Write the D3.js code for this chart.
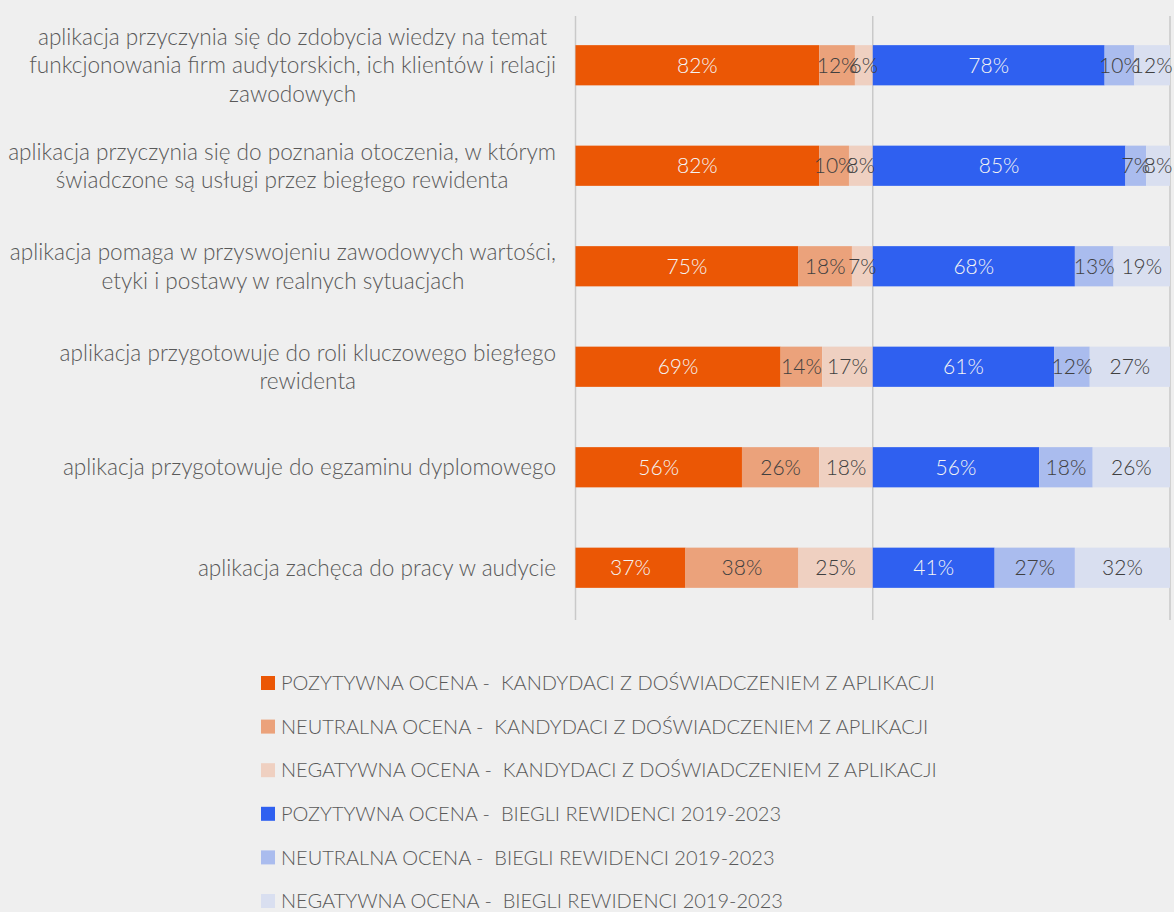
<!DOCTYPE html>
<html>
<head>
<meta charset="utf-8">
<script src="https://cdn.jsdelivr.net/npm/d3@7"></script>
<style>
  body { margin: 0; background: #efefef; }
  svg { display: block; font-family: Lato, "Open Sans", sans-serif; font-weight: 300; }
</style>
</head>
<body>
<div id="chart"></div>
<script>
// dane
const categories = [
  ["aplikacja przyczynia się do zdobycia wiedzy na temat", "funkcjonowania firm audytorskich, ich klientów i relacji", "zawodowych"],
  ["aplikacja przyczynia się do poznania otoczenia, w którym", "świadczone są usługi przez biegłego rewidenta"],
  ["aplikacja pomaga w przyswojeniu zawodowych wartości,", "etyki i postawy w realnych sytuacjach"],
  ["aplikacja przygotowuje do roli kluczowego biegłego", "rewidenta"],
  ["aplikacja przygotowuje do egzaminu dyplomowego"],
  ["aplikacja zachęca do pracy w audycie"]
];
const kandPoz = [82, 82, 75, 69, 56, 37];
const kandNeu = [12, 10, 18, 14, 26, 38];
const kandNeg = [6, 8, 7, 17, 18, 25];
const bieglPoz = [78, 85, 68, 61, 56, 41];
const bieglNeu = [10, 7, 13, 12, 18, 27];
const bieglNeg = [12, 8, 19, 27, 26, 32];
const seriesNames = [
  "POZYTYWNA OCENA -  KANDYDACI Z DOŚWIADCZENIEM Z APLIKACJI",
  "NEUTRALNA OCENA -  KANDYDACI Z DOŚWIADCZENIEM Z APLIKACJI",
  "NEGATYWNA OCENA -  KANDYDACI Z DOŚWIADCZENIEM Z APLIKACJI",
  "POZYTYWNA OCENA -  BIEGLI REWIDENCI 2019-2023",
  "NEUTRALNA OCENA -  BIEGLI REWIDENCI 2019-2023",
  "NEGATYWNA OCENA -  BIEGLI REWIDENCI 2019-2023"
];
const colors = ["#eb5705", "#eba27b", "#efd0c1", "#2f60f0", "#aabcee", "#d9dff0"];
const labelColors = ["#f4f4f4", "#404040", "#404040", "#f4f4f4", "#404040", "#404040"];

const width = 1174, height = 912;
const svg = d3.select("#chart").append("svg")
  .attr("width", width)
  .attr("height", height);

// skale
const x = d3.scaleLinear().domain([0, 200]).range([575.5, 1170]);
const y = d3.scaleBand()
  .domain(d3.range(categories.length))
  .range([15, 618])
  .paddingInner(0.6)
  .paddingOuter(0.3);

// pionowe linie osi
svg.append("g")
  .selectAll("line")
  .data([0, 100, 200])
  .join("line")
  .attr("x1", d => x(d)).attr("x2", d => x(d))
  .attr("y1", 16).attr("y2", 620)
  .attr("stroke", "#c9c9c9")
  .attr("stroke-width", 1.5);

// segmenty (kandydaci od 0, biegli od 100)
const allSeries = [kandPoz, kandNeu, kandNeg, bieglPoz, bieglNeu, bieglNeg];
const segments = [];
categories.forEach((c, i) => {
  let start = 0;
  allSeries.forEach((s, k) => {
    if (k === 3) start = 100;
    segments.push({ row: i, k: k, x0: start, x1: start + s[i], v: s[i] });
    start += s[i];
  });
});

svg.append("g")
  .selectAll("rect")
  .data(segments)
  .join("rect")
  .attr("x", d => x(d.x0))
  .attr("y", d => y(d.row))
  .attr("width", d => x(d.x1) - x(d.x0))
  .attr("height", y.bandwidth())
  .attr("fill", d => colors[d.k]);

svg.append("g")
  .selectAll("text")
  .data(segments)
  .join("text")
  .attr("x", d => (x(d.x0) + x(d.x1)) / 2)
  .attr("y", d => y(d.row) + y.bandwidth() / 2)
  .attr("dy", "0.36em")
  .attr("text-anchor", "middle")
  .style("font-size", "21px")
  .attr("fill", d => labelColors[d.k])
  .text(d => d.v + "%");

// etykiety kategorii
const lineH = 28.5;
const catG = svg.append("g");
categories.forEach((lines, i) => {
  const cy = y(i) + y.bandwidth() / 2;
  const t = catG.append("text")
    .attr("text-anchor", "middle")
    .style("font-size", "22.6px")
    .attr("fill", "#595959");
  lines.forEach((l, j) => {
    t.append("tspan")
      .attr("y", cy + (j - (lines.length - 1) / 2) * lineH)
      .attr("dy", "0.36em")
      .text(l);
  });
  let maxW = 0;
  t.selectAll("tspan").each(function () {
    maxW = Math.max(maxW, this.getComputedTextLength());
  });
  t.selectAll("tspan").attr("x", 556 - maxW / 2);
});

// legenda
const legend = svg.append("g")
  .selectAll("g")
  .data(seriesNames)
  .join("g")
  .attr("transform", (d, i) => `translate(261,${683 + i * 43.6})`);

legend.append("rect")
  .attr("x", 0).attr("y", -7)
  .attr("width", 14).attr("height", 14)
  .attr("fill", (d, i) => colors[i]);

legend.append("text")
  .attr("x", 20)
  .attr("dy", "0.36em")
  .style("font-size", "20px")
  .style("white-space", "pre")
  .attr("fill", "#595959")
  .text(d => d);
</script>
</body>
</html>
